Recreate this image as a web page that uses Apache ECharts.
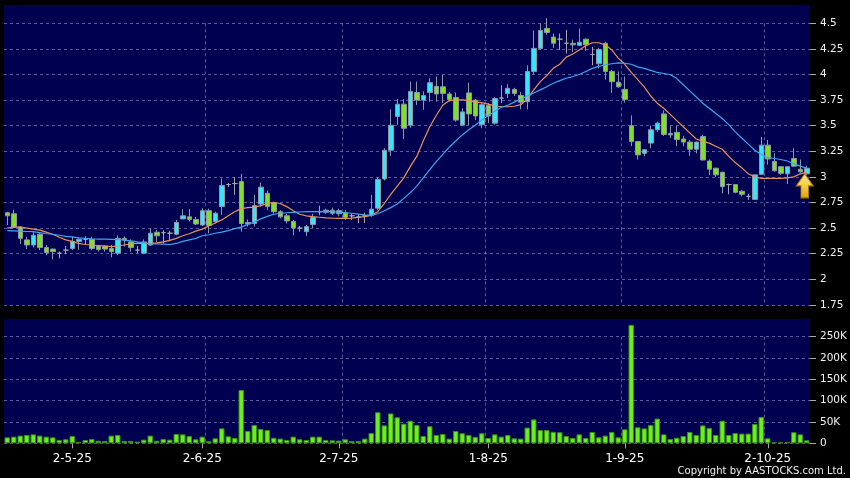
<!DOCTYPE html>
<html><head><meta charset="utf-8">
<script src="https://cdn.jsdelivr.net/npm/echarts@6/dist/echarts.min.js"></script>
<style>html,body{margin:0;padding:0;background:#000;}#c{width:850px;height:478px;}</style>
</head><body><div id="c"></div>
<script>
// trading days (day numbers per month, 2025)
const tradingDays = {
  4: [14,15,16,17,22,23,24,25,28,29,30],
  5: [2,6,7,8,9,12,13,14,15,16,19,20,21,22,23,26,27,28,29,30],
  6: [2,3,4,5,6,9,10,11,12,13,16,17,18,19,20,23,24,25,26,27,30],
  7: [2,3,4,7,8,9,10,11,14,15,16,17,18,21,22,23,24,25,28,29,30,31],
  8: [1,4,5,6,7,8,11,12,13,14,15,18,19,20,21,22,25,26,27,28,29],
  9: [1,2,3,4,5,8,9,10,11,12,15,16,17,18,19,22,23,24,25,26,29,30],
  10: [2,3,6,8,9,10,13]
};
const dates = [];
Object.keys(tradingDays).forEach(m => tradingDays[m].forEach(d => dates.push(d + '-' + m + '-25')));

const tickLabels = ['2-5-25','2-6-25','2-7-25','1-8-25','1-9-25','2-10-25'];
const labelIndex = [10,30,51,74,95,117];
const monthStart = [11,31,52,74,95,117];

const opens = [2.65,2.64,2.51,2.385,2.335,2.44,2.31,2.295,2.255,2.285,
 2.30,2.37,2.39,2.39,2.325,2.325,2.30,2.255,2.40,2.365,
 2.285,2.255,2.335,2.46,2.455,2.45,2.44,2.59,2.61,2.585,
 2.53,2.67,2.565,2.71,2.925,2.935,2.955,2.54,2.545,2.735,
 2.84,2.75,2.66,2.62,2.565,2.50,2.465,2.535,2.66,2.655,
 2.645,2.67,2.65,2.62,2.61,2.62,2.625,2.695,2.98,3.26,
 3.59,3.71,3.505,3.825,3.75,3.825,3.885,3.88,3.81,3.775,
 3.505,3.82,3.75,3.51,3.70,3.525,3.77,3.815,3.855,3.795,
 3.735,4.03,4.255,4.45,4.365,4.345,4.305,4.305,4.285,4.345,
 4.195,4.105,4.305,4.03,3.925,3.855,3.50,3.345,3.23,3.33,
 3.46,3.615,3.41,3.435,3.37,3.34,3.27,3.395,3.155,3.085,
 3.045,2.925,2.925,2.86,2.81,2.78,3.025,3.31,3.15,3.10,
 3.03,3.18,3.075,3.03];
const closes = [2.62,2.51,2.40,2.335,2.43,2.31,2.26,2.27,2.255,2.285,
 2.37,2.39,2.39,2.30,2.29,2.295,2.27,2.40,2.385,2.31,
 2.285,2.365,2.45,2.425,2.455,2.45,2.555,2.62,2.585,2.54,
 2.67,2.525,2.645,2.915,2.925,2.935,2.545,2.555,2.72,2.90,
 2.71,2.66,2.61,2.57,2.50,2.50,2.515,2.605,2.66,2.675,
 2.675,2.64,2.605,2.62,2.61,2.62,2.685,2.975,3.26,3.505,
 3.71,3.475,3.835,3.75,3.795,3.92,3.81,3.815,3.755,3.555,
 3.635,3.615,3.595,3.705,3.595,3.765,3.77,3.865,3.815,3.73,
 4.03,4.255,4.43,4.41,4.305,4.345,4.305,4.29,4.315,4.29,
 4.195,4.245,4.03,3.93,3.88,3.755,3.345,3.215,3.265,3.46,
 3.525,3.415,3.425,3.365,3.34,3.27,3.34,3.165,3.075,3.02,
 2.905,2.925,2.85,2.83,2.81,3.02,3.31,3.175,3.06,3.035,
 3.10,3.105,3.05,3.085];
const lows = [2.53,2.50,2.345,2.295,2.31,2.285,2.235,2.195,2.205,2.245,
 2.285,2.29,2.335,2.285,2.27,2.27,2.215,2.235,2.32,2.27,
 2.255,2.245,2.325,2.365,2.35,2.37,2.43,2.59,2.565,2.53,
 2.52,2.45,2.545,2.63,2.90,2.825,2.465,2.515,2.515,2.71,
 2.675,2.64,2.595,2.545,2.43,2.465,2.425,2.50,2.625,2.64,
 2.63,2.615,2.58,2.58,2.55,2.55,2.61,2.675,2.965,3.205,
 3.51,3.37,3.48,3.70,3.655,3.735,3.735,3.72,3.735,3.54,
 3.495,3.505,3.555,3.475,3.525,3.51,3.72,3.77,3.79,3.66,
 3.66,4.00,4.24,4.39,4.26,4.24,4.205,4.22,4.28,4.23,
 4.09,4.06,3.95,3.82,3.87,3.725,3.30,3.17,3.20,3.28,
 3.44,3.40,3.38,3.30,3.30,3.205,3.23,3.16,3.02,3.00,
 2.84,2.83,2.84,2.81,2.775,2.78,3.02,3.12,3.05,3.02,
 2.93,3.095,3.04,3.02];
const highs = [2.66,2.68,2.52,2.415,2.465,2.46,2.335,2.30,2.27,2.325,
 2.415,2.40,2.42,2.415,2.335,2.33,2.335,2.43,2.42,2.39,
 2.325,2.39,2.50,2.48,2.48,2.475,2.58,2.685,2.685,2.61,
 2.695,2.69,2.66,2.985,2.94,2.995,3.03,2.585,2.825,2.945,
 2.865,2.76,2.675,2.64,2.58,2.52,2.53,2.64,2.72,2.69,
 2.70,2.69,2.675,2.645,2.64,2.65,2.825,3.00,3.28,3.66,
 3.76,3.76,3.93,3.93,3.835,3.965,3.98,3.995,3.83,3.825,
 3.67,3.92,3.76,3.72,3.72,3.78,3.895,3.905,3.87,3.83,
 4.09,4.43,4.50,4.55,4.40,4.40,4.435,4.34,4.45,4.35,
 4.27,4.26,4.32,4.045,4.03,3.98,3.60,3.35,3.27,3.50,
 3.54,3.65,3.50,3.50,3.40,3.36,3.345,3.41,3.17,3.09,
 3.05,2.935,2.93,2.87,2.835,3.02,3.39,3.36,3.23,3.105,
 3.10,3.28,3.17,3.11];
const volumesK = [14,15.6,18,19.6,21,18,15.6,14,7.8,9.4,
 17,3,7.8,10,6,5.5,18,19.6,5.5,5.5,
 4,8.6,18,6,10,8.6,21.9,21,17,9.4,
 15.6,4.7,11.7,35,16.4,12.5,125,29,43,33.6,
 31,13,11,7.8,15.6,9.4,7.8,15.6,15.6,7.8,
 7,6.3,9.4,5.5,5.5,11,24,72.8,42,70,
 61,46,53,43,17,40,19.6,22,11,29,
 23.5,19.6,15,23.5,12.5,21,15.6,19.6,11.7,11,
 36.8,56,31,31,27,26,17,12.5,21,12.5,
 26.6,14,18,26.6,14,32.9,277.7,37.6,35,43,
 58,21,10,13,17,26.6,19.6,42,36,19.6,
 53,19.6,24,22.7,22.7,45.4,61.8,11.7,2.3,2.3,
 3,26,21,7];
const maOrange = [2.50,2.51,2.51,2.50,2.49,2.48,2.46,2.44,2.41,2.385,
 2.37,2.35,2.34,2.335,2.33,2.325,2.32,2.325,2.335,2.345,
 2.35,2.35,2.35,2.355,2.365,2.38,2.40,2.425,2.445,2.47,
 2.49,2.52,2.55,2.58,2.62,2.66,2.69,2.70,2.705,2.72,
 2.74,2.75,2.74,2.71,2.67,2.635,2.62,2.612,2.606,2.60,
 2.597,2.595,2.595,2.598,2.605,2.612,2.625,2.66,2.74,2.83,
 2.91,2.99,3.10,3.20,3.35,3.49,3.60,3.70,3.745,3.752,
 3.752,3.745,3.73,3.725,3.71,3.695,3.685,3.685,3.69,3.705,
 3.76,3.85,3.93,3.99,4.06,4.10,4.17,4.20,4.24,4.28,
 4.31,4.31,4.29,4.24,4.16,4.10,4.02,3.95,3.88,3.79,
 3.72,3.67,3.61,3.55,3.49,3.43,3.37,3.35,3.33,3.30,
 3.27,3.20,3.14,3.09,3.03,3.00,2.985,2.985,2.985,2.985,
 2.99,3.00,3.03,3.045];
const maBlue = [2.475,2.473,2.47,2.467,2.465,2.455,2.445,2.44,2.43,2.42,
 2.415,2.405,2.40,2.396,2.393,2.392,2.39,2.388,2.383,2.375,
 2.365,2.355,2.345,2.345,2.343,2.34,2.35,2.37,2.385,2.40,
 2.425,2.435,2.45,2.46,2.475,2.495,2.51,2.535,2.56,2.59,
 2.615,2.635,2.645,2.65,2.654,2.657,2.66,2.66,2.66,2.66,
 2.66,2.655,2.65,2.645,2.637,2.63,2.625,2.64,2.67,2.70,
 2.735,2.79,2.845,2.91,2.99,3.07,3.15,3.22,3.29,3.35,
 3.41,3.46,3.505,3.555,3.60,3.64,3.68,3.70,3.73,3.76,
 3.79,3.82,3.85,3.88,3.915,3.94,3.963,3.98,4.00,4.03,
 4.06,4.08,4.095,4.105,4.113,4.11,4.10,4.075,4.06,4.04,
 4.02,4.01,4.00,3.96,3.90,3.84,3.78,3.72,3.67,3.62,
 3.57,3.51,3.44,3.38,3.32,3.26,3.22,3.19,3.18,3.17,
 3.155,3.13,3.105,3.085];

const candles = opens.map((o, i) => [o, closes[i], lows[i], highs[i]]);
const volumes = volumesK.map(v => v * 1000);
const last = dates.length - 1;

const navy = '#000050';
const gridLineStyle = {color: 'rgba(125,125,185,0.7)', type: [3, 3], width: 1};
const font = 'DejaVu Sans';

const chart = echarts.init(document.getElementById('c'));
chart.setOption({
  backgroundColor: '#000',
  animation: false,
  textStyle: {fontFamily: font},
  graphic: [
    {type: 'rect', silent: true, z: -10, shape: {x: 4, y: 5, width: 806, height: 301}, style: {fill: navy}},
    {type: 'rect', silent: true, z: -10, shape: {x: 4, y: 319, width: 806, height: 124.5}, style: {fill: navy}},
    {type: 'text', x: 846, y: 471, style: {text: 'Copyright by AASTOCKS.com Ltd.', fill: '#f0f0f0',
      font: '10px "DejaVu Sans"', align: 'right', verticalAlign: 'middle'}}
  ],
  grid: [
    {left: 4, width: 806, top: 23.3, height: 281.6},
    {left: 4, width: 806, top: 336.7, height: 106.6}
  ],
  xAxis: [
    {type: 'category', gridIndex: 0, data: dates, boundaryGap: true,
     axisLine: {show: false}, axisTick: {show: false}, axisLabel: {show: false},
     splitLine: {show: true, interval: (i) => monthStart.includes(i), showMinLine: false, showMaxLine: false, lineStyle: gridLineStyle}},
    {type: 'category', gridIndex: 1, data: dates, boundaryGap: true,
     axisLine: {show: false},
     axisTick: {show: true, alignWithLabel: true, interval: (i) => labelIndex.includes(i), length: 5, lineStyle: {color: '#aaaaaa'}},
     axisLabel: {show: true, interval: (i) => labelIndex.includes(i), formatter: (v, i) => tickLabels[labelIndex.indexOf(i)] || '',
       color: '#ffffff', fontSize: 12, margin: 10, fontFamily: font},
     splitLine: {show: true, interval: (i) => monthStart.includes(i), showMinLine: false, showMaxLine: false, lineStyle: gridLineStyle}}
  ],
  yAxis: [
    {type: 'value', gridIndex: 0, position: 'right', min: 1.75, max: 4.5, interval: 0.25,
     axisLine: {show: false}, axisTick: {show: true, length: 6, lineStyle: {color: '#aaaaaa'}},
     axisLabel: {color: '#f0f0f0', fontSize: 10.5, margin: 10, fontFamily: font},
     splitLine: {show: true, lineStyle: gridLineStyle}},
    {type: 'value', gridIndex: 1, position: 'right', min: 0, max: 250000, interval: 50000,
     axisLine: {show: false}, axisTick: {show: true, length: 6, lineStyle: {color: '#aaaaaa'}},
     axisLabel: {color: '#f0f0f0', fontSize: 10.5, margin: 10, fontFamily: font,
       formatter: (v) => v === 0 ? '0' : (v / 1000) + 'K'},
     splitLine: {show: true, lineStyle: gridLineStyle}}
  ],
  series: [
    {type: 'candlestick', xAxisIndex: 0, yAxisIndex: 0, data: candles, barWidth: 5, clip: false, z: 2,
     itemStyle: {color: '#35e6f6', color0: '#80e028', borderColor: '#8a98a8', borderColor0: '#8a98a8',
       borderColorDoji: '#a8a8a8', borderWidth: 1},
     markPoint: {
       silent: true,
       label: {show: false},
       data: [{coord: [dates[last], lows[last]],
         symbol: 'path://M9,0 L18,12 L13,12 L13,24 L5,24 L5,12 L0,12 Z',
         symbolSize: [17, 24], symbolOffset: [-2, 11],
         itemStyle: {color: {type: 'linear', x: 0, y: 0, x2: 0, y2: 1,
           colorStops: [{offset: 0, color: '#fff38a'}, {offset: 1, color: '#e0a400'}]},
           borderColor: '#b07800', borderWidth: 1}}]
     }},
    {type: 'line', xAxisIndex: 0, yAxisIndex: 0, data: maOrange, symbol: 'none', z: 3,
     lineStyle: {color: '#e8925a', width: 1.2}},
    {type: 'line', xAxisIndex: 0, yAxisIndex: 0, data: maBlue, symbol: 'none', z: 3,
     lineStyle: {color: '#3ea6f0', width: 1.2}},
    {type: 'bar', xAxisIndex: 1, yAxisIndex: 1, data: volumes, barWidth: '84%', clip: false,
     itemStyle: {color: '#6af01c', borderColor: '#3c8f14', borderWidth: 1}}
  ]
});
</script>
</body></html>
